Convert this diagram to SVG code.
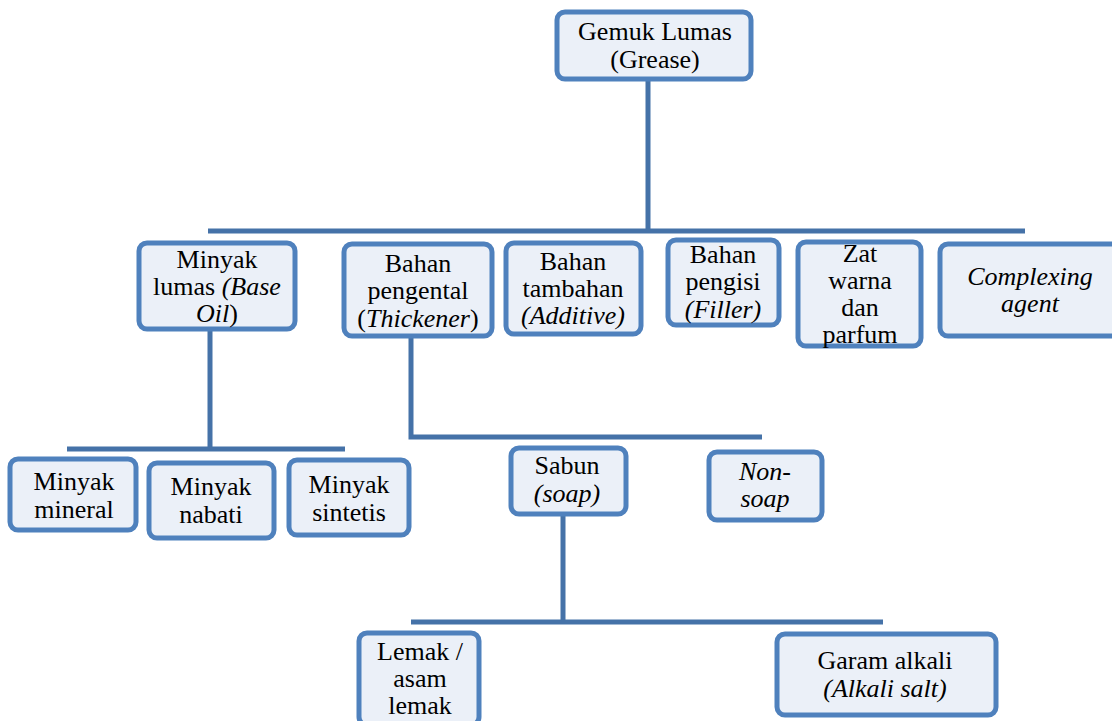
<svg xmlns="http://www.w3.org/2000/svg" width="1112" height="721" viewBox="0 0 1112 721">
<style>
.box{fill:#EBF0F8;stroke:#4F81BD;stroke-width:5}
text{font-family:'Liberation Serif','Times New Roman',serif;font-size:26px;fill:#000;text-anchor:middle}
.i{font-style:italic}
.c{stroke:#4572A8;stroke-width:5;fill:none}
</style>
<rect width="1112" height="721" fill="#fff"/>
<g id="connectors">
<path class="c" d="M648 80V231M208 231H1025"/>
<path class="c" d="M210 330V449M67 449H345"/>
<path class="c" d="M411 338V437H762"/>
<path class="c" d="M563 516V622M411 622H883"/>
</g>
<g id="n-grease"><rect class="box" x="557" y="12" width="194" height="67" rx="8"/>
<text x="655" y="40">Gemuk Lumas</text><text x="655" y="68">(Grease)</text></g>
<g id="n-baseoil"><rect class="box" x="139" y="243" width="156" height="86" rx="8"/>
<text x="217" y="268">Minyak</text><text x="217" y="295">lumas <tspan class="i">(Base</tspan></text><text x="217" y="322"><tspan class="i">Oil</tspan>)</text></g>
<g id="n-thickener"><rect class="box" x="344" y="244" width="148" height="92" rx="8"/>
<text x="418" y="272">Bahan</text><text x="418" y="299">pengental</text><text x="418" y="327">(<tspan class="i">Thickener</tspan>)</text></g>
<g id="n-additive"><rect class="box" x="506" y="243" width="135" height="91" rx="8"/>
<text x="573" y="270">Bahan</text><text x="573" y="297">tambahan</text><text class="i" x="573" y="324">(Additive)</text></g>
<g id="n-filler"><rect class="box" x="668" y="240" width="111" height="85" rx="8"/>
<text x="723" y="263">Bahan</text><text x="723" y="290">pengisi</text><text class="i" x="723" y="318">(Filler)</text></g>
<g id="n-color"><rect class="box" x="798" y="242" width="123" height="104" rx="8"/>
<text x="860" y="262">Zat</text><text x="860" y="289">warna</text><text x="860" y="316">dan</text><text x="860" y="343">parfum</text></g>
<g id="n-complex"><rect class="box" x="940" y="244" width="180" height="92" rx="8"/>
<text class="i" x="1030" y="285">Complexing</text><text class="i" x="1030" y="312">agent</text></g>
<g id="n-mineral"><rect class="box" x="10" y="459" width="126" height="71" rx="8"/>
<text x="74" y="490">Minyak</text><text x="74" y="518">mineral</text></g>
<g id="n-nabati"><rect class="box" x="149" y="463" width="125" height="75" rx="8"/>
<text x="211" y="495">Minyak</text><text x="211" y="523">nabati</text></g>
<g id="n-sintetis"><rect class="box" x="289" y="460" width="120" height="75" rx="8"/>
<text x="349" y="493">Minyak</text><text x="349" y="521">sintetis</text></g>
<g id="n-soap"><rect class="box" x="511" y="448" width="115" height="66" rx="8"/>
<text x="567" y="474">Sabun</text><text class="i" x="567" y="502">(soap)</text></g>
<g id="n-nonsoap"><rect class="box" x="709" y="452" width="113" height="68" rx="8"/>
<text class="i" x="765" y="480">Non-</text><text class="i" x="765" y="507">soap</text></g>
<g id="n-lemak"><rect class="box" x="359" y="633" width="120" height="92" rx="8"/>
<text x="420" y="660">Lemak /</text><text x="420" y="687">asam</text><text x="420" y="714">lemak</text></g>
<g id="n-garam"><rect class="box" x="777" y="634" width="219" height="81" rx="8"/>
<text x="885" y="669">Garam alkali</text><text class="i" x="885" y="697">(Alkali salt)</text></g>
</svg>
